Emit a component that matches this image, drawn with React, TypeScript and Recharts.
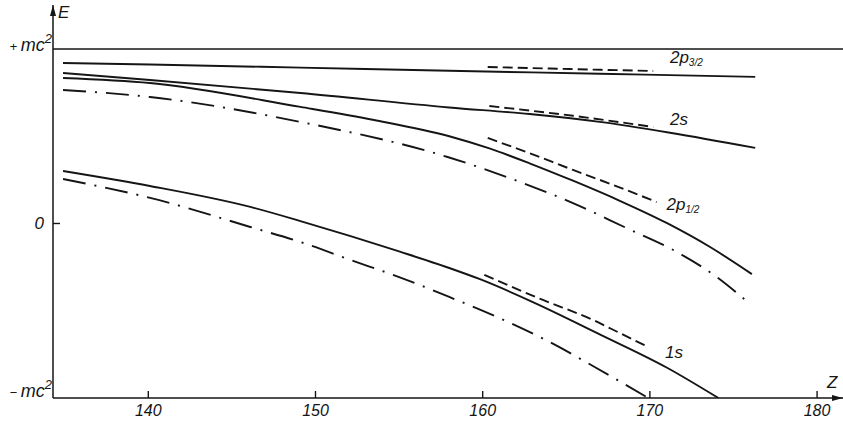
import React from 'react';
import { LineChart, Line, XAxis, YAxis, ReferenceLine, ReferenceDot } from 'recharts';

// Tick values
const zTicks = [140, 150, 160, 170, 180];
const eTicks = [-1, 0, 1];

// 2p3/2 level
const p32SolidZ = [134.9, 140.1, 149.1, 158.0, 167.0, 176.3];
const p32SolidE = [0.92, 0.911, 0.893, 0.875, 0.858, 0.84];
const p32DashZ = [160.3, 165.2, 170.2];
const p32DashE = [0.897, 0.885, 0.874];

// 2s level
const s2SolidZ = [134.9, 140.1, 149.1, 158.0, 162.8, 167.0, 171.2, 176.3];
const s2SolidE = [0.862, 0.822, 0.748, 0.665, 0.627, 0.582, 0.52, 0.433];
const s2DashZ = [160.4, 165.4, 170.2];
const s2DashE = [0.673, 0.617, 0.553];

// 2p1/2 level
const p12SolidZ = [134.9, 140.1, 149.1, 153.5, 158.0, 160.4, 162.8, 165.4, 168.2, 171.0, 173.6, 176.1];
const p12SolidE = [0.834, 0.805, 0.668, 0.593, 0.5, 0.43, 0.345, 0.245, 0.13, 0.003, -0.135, -0.29];
const p12DashZ = [160.3, 162.6, 165.4, 167.8, 170.4];
const p12DashE = [0.49, 0.41, 0.307, 0.221, 0.123];
const p12DotZ = [134.9, 140.1, 149.1, 157.9, 162.4, 165.4, 168.6, 171.4, 174.0, 175.7];
const p12DotE = [0.765, 0.725, 0.582, 0.381, 0.232, 0.117, -0.026, -0.152, -0.307, -0.438];

// 1s level
const s1SolidZ = [134.9, 140.1, 146.1, 149.1, 152.1, 155.0, 158.0, 159.8, 163.0, 167.0, 171.0, 174.1];
const s1SolidE = [0.301, 0.215, 0.095, 0.014, -0.072, -0.16, -0.255, -0.318, -0.45, -0.635, -0.825, -1.0];
const s1DashZ = [160.1, 163.6, 166.6, 168.2, 169.9];
const s1DashE = [-0.295, -0.438, -0.553, -0.628, -0.708];
const s1DotZ = [134.9, 140.6, 146.1, 149.1, 152.1, 155.0, 158.0, 161.0, 164.0, 166.8, 169.9];
const s1DotE = [0.255, 0.135, -0.02, -0.106, -0.209, -0.307, -0.421, -0.542, -0.679, -0.828, -1.0];

// curve label anchors
const labelMain = ['2p', '2s', '2p', '1s'];
const labelSub = ['3/2', '', '1/2', ''];
const labelZ = [171.2, 171.2, 171.0, 170.9];
const labelE = [0.92, 0.564, 0.077, -0.771];

const zip = (zs: number[], es: number[]) => zs.map((z, i) => ({ Z: z, E: es[i] }));

const INK = '#151515';
const FONT = '"Liberation Sans", Arial, sans-serif';
const DASH = '10 5';
const DASHDOT = '23 9 2 9';

const XTick = (props: any) => {
  const { x, y, payload } = props;
  return (
    <g>
      <line x1={x} x2={x} y1={y} y2={y - 7} stroke={INK} strokeWidth={1.4} />
      <text x={x} y={y + 18} textAnchor="middle" fontStyle="italic" fontSize={16} fontFamily={FONT} fill={INK}>
        {payload.value}
      </text>
    </g>
  );
};

const YTick = (props: any) => {
  const { x, y, payload } = props;
  const v = payload.value;
  if (v === 0) {
    return (
      <g>
        <line x1={x} x2={x + 7} y1={y} y2={y} stroke={INK} strokeWidth={1.4} />
        <text x={x - 9} y={y + 6} textAnchor="end" fontStyle="italic" fontSize={17} fontFamily={FONT} fill={INK}>0</text>
      </g>
    );
  }
  const sign = v > 0 ? '+' : '−';
  return (
    <text x={x - 1} y={y + (v > 0 ? 2 : -1)} textAnchor="end" fontStyle="italic" fontSize={18} fontFamily={FONT} fill={INK}>
      <tspan fontSize={13}>{sign} </tspan>
      <tspan>mc</tspan>
      <tspan fontSize={13} dy={-8}>2</tspan>
    </text>
  );
};

const ArrowRight = (props: any) => {
  const { cx, cy } = props;
  return <polygon points={`${cx},${cy} ${cx - 11},${cy - 3} ${cx - 11},${cy + 3}`} fill={INK} />;
};
const ArrowUp = (props: any) => {
  const { cx, cy } = props;
  return <polygon points={`${cx},${cy} ${cx - 3},${cy + 11} ${cx + 3},${cy + 11}`} fill={INK} />;
};

const makeLabel = (main: string, sub: string) => (props: any) => {
  const { cx, cy } = props;
  return (
    <text x={cx} y={cy} fontStyle="italic" fontSize={17} fontFamily={FONT} fill={INK}>
      <tspan>{main}</tspan>
      {sub ? <tspan fontSize={10} dy={3}>{sub}</tspan> : null}
    </text>
  );
};

const AxisText = (text: string) => (props: any) => {
  const { cx, cy } = props;
  return (
    <text x={cx} y={cy} fontStyle="italic" fontSize={17} fontFamily={FONT} fill={INK}>{text}</text>
  );
};

const series = [
  { key: 'p32s', data: zip(p32SolidZ, p32SolidE), dash: undefined },
  { key: 'p32d', data: zip(p32DashZ, p32DashE), dash: DASH },
  { key: 's2s', data: zip(s2SolidZ, s2SolidE), dash: undefined },
  { key: 's2d', data: zip(s2DashZ, s2DashE), dash: DASH },
  { key: 'p12s', data: zip(p12SolidZ, p12SolidE), dash: undefined },
  { key: 'p12d', data: zip(p12DashZ, p12DashE), dash: DASH },
  { key: 'p12dd', data: zip(p12DotZ, p12DotE), dash: DASHDOT },
  { key: 's1s', data: zip(s1SolidZ, s1SolidE), dash: undefined },
  { key: 's1d', data: zip(s1DashZ, s1DashE), dash: DASH },
  { key: 's1dd', data: zip(s1DotZ, s1DotE), dash: DASHDOT },
];

const Z_MIN = 134.3;
const Z_MAX = 181.55;
const E_MIN = -1;
const E_MAX = 1.252;

export default function App() {
  return (
    <div style={{ position: 'absolute', left: 0, top: 0, background: '#fff' }}>
      <LineChart width={843} height={425} margin={{ top: 5, right: 0, bottom: 0, left: 0 }}>
        <XAxis
          dataKey="Z"
          type="number"
          domain={[Z_MIN, Z_MAX]}
          allowDataOverflow
          ticks={zTicks}
          tick={<XTick />}
          tickLine={false}
          tickSize={0}
          tickMargin={0}
          height={27}
          axisLine={{ stroke: INK, strokeWidth: 1.5 }}
        />
        <YAxis
          type="number"
          domain={[E_MIN, E_MAX]}
          allowDataOverflow
          ticks={eTicks}
          tick={<YTick />}
          tickLine={false}
          tickSize={0}
          tickMargin={0}
          width={53}
          axisLine={{ stroke: INK, strokeWidth: 1.5 }}
        />
        <ReferenceLine y={1} stroke={INK} strokeWidth={1.4} ifOverflow="visible" />
        {series.map((s) => (
          <Line
            key={s.key}
            data={s.data}
            dataKey="E"
            type="monotone"
            stroke={INK}
            strokeWidth={1.9}
            strokeDasharray={s.dash}
            dot={false}
            activeDot={false}
            isAnimationActive={false}
          />
        ))}
        {labelMain.map((m, i) => (
          <ReferenceDot
            key={'lab' + i}
            x={labelZ[i]}
            y={labelE[i]}
            ifOverflow="visible"
            shape={makeLabel(m, labelSub[i])}
          />
        ))}
        <ReferenceDot x={Z_MAX} y={E_MIN} ifOverflow="visible" shape={ArrowRight} />
        <ReferenceDot x={Z_MIN} y={E_MAX} ifOverflow="visible" shape={ArrowUp} />
        <ReferenceDot x={134.6} y={1.175} ifOverflow="visible" shape={AxisText('E')} />
        <ReferenceDot x={180.6} y={-0.943} ifOverflow="visible" shape={AxisText('Z')} />
      </LineChart>
    </div>
  );
}
